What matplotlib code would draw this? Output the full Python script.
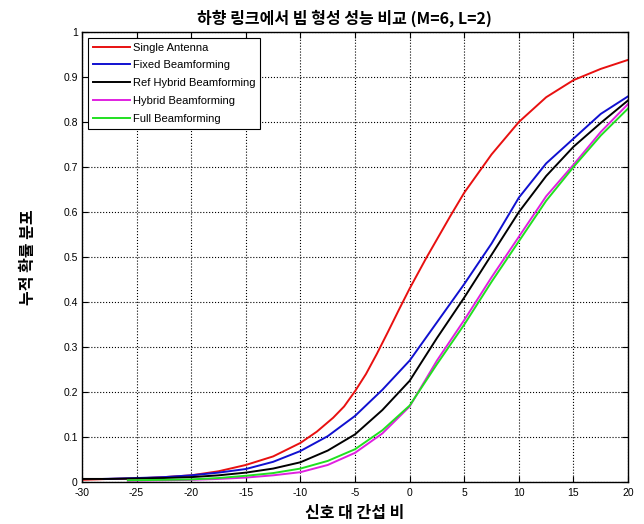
import numpy as np
import matplotlib
matplotlib.use("Agg")
from matplotlib import pyplot as plt
from matplotlib.ticker import FuncFormatter

plt.rcParams['font.family'] = ['Liberation Sans', 'Noto Sans CJK KR', 'DejaVu Sans']
plt.rcParams['axes.unicode_minus'] = False

# SINR points (dB) and CDF values
x_red = [-30, -27.5, -25, -22.5, -20, -17.5, -15, -12.5, -10, -8.5, -7, -6, -5, -4, -3,
         -2, -1, 0, 1.5, 3.7, 5, 7.5, 10, 12.5, 15, 17.5, 20]
single = [0.005, 0.007, 0.008, 0.011, 0.015, 0.024, 0.038, 0.057, 0.087, 0.112, 0.143, 0.168,
          0.202, 0.24, 0.285, 0.333, 0.382, 0.43, 0.497, 0.59, 0.643, 0.728, 0.80, 0.855, 0.893,
          0.918, 0.938]

x_blue = [-28, -25, -22.5, -20, -17.5, -15, -12.5, -10, -7.5, -5, -2.5,
          0, 2.5, 5, 7.5, 10, 12.5, 15, 17.5, 20]
fixed = [0.007, 0.009, 0.011, 0.015, 0.021, 0.029, 0.045, 0.069, 0.102, 0.147, 0.205,
         0.27, 0.355, 0.44, 0.53, 0.632, 0.708, 0.763, 0.818, 0.857]

x_black = [-30, -27.5, -25, -22.5, -20, -17.5, -15, -12.5, -10, -7.5, -5, -2.5,
           0, 2.5, 5, 7.5, 10, 12.5, 15, 17.5, 20]
ref_hybrid = [0.007, 0.007, 0.008, 0.009, 0.011, 0.015, 0.021, 0.030, 0.044, 0.070, 0.106, 0.16,
              0.225, 0.32, 0.41, 0.505, 0.60, 0.68, 0.745, 0.798, 0.848]

x_low = [-25.8, -22.5, -20, -17.5, -15, -12.5, -10, -7.5, -5, -2.5,
         0, 2.5, 5, 7.5, 10, 12.5, 15, 17.5, 20]
hybrid = [0.003, 0.004, 0.005, 0.007, 0.010, 0.015, 0.022, 0.038, 0.065, 0.108,
          0.168, 0.27, 0.36, 0.455, 0.545, 0.635, 0.705, 0.778, 0.84]
full = [0.004, 0.005, 0.006, 0.009, 0.014, 0.020, 0.030, 0.047, 0.073, 0.115,
        0.17, 0.262, 0.35, 0.445, 0.535, 0.625, 0.70, 0.77, 0.83]

labels = ["Single Antenna", "Fixed Beamforming", "Ref Hybrid Beamforming",
          "Hybrid Beamforming", "Full Beamforming"]

fig = plt.figure(figsize=(6.44, 5.24), dpi=100, facecolor="white")
ax = fig.add_axes([0.1273, 0.080, 0.848, 0.859])

ax.plot(x_red, single, color="#e81010", lw=1.4, label=labels[0])
ax.plot(x_blue, fixed, color="#1010d0", lw=1.4, label=labels[1])
ax.plot(x_black, ref_hybrid, color="black", lw=1.4, label=labels[2])
ax.plot(x_low, hybrid, color="#e020e0", lw=1.4, label=labels[3])
ax.plot(x_low, full, color="#20e020", lw=1.4, label=labels[4])

ax.set_xlim(-30, 20)
ax.set_ylim(0, 1)
ax.set_xticks(np.arange(-30, 21, 5))
ax.set_yticks(np.arange(0, 1.01, 0.1))
ax.yaxis.set_major_formatter(FuncFormatter(lambda v, p: "%g" % round(v, 1)))
ax.tick_params(direction="in", top=True, right=True, labelsize=7.5, length=4)
ax.tick_params(axis="x", pad=4)
ax.tick_params(axis="y", pad=3)
ax.grid(True, linestyle=":", color="black", lw=0.8)
for s in ax.spines.values():
    s.set_linewidth(1.0)

leg = ax.legend(loc="upper left", fontsize=8, fancybox=False, framealpha=1,
                edgecolor="black", handlelength=3.4, borderaxespad=0.5,
                labelspacing=0.7, handletextpad=0.2, borderpad=0.45)
leg.get_frame().set_linewidth(0.8)

kfont = dict(family=["Noto Sans CJK KR", "DejaVu Sans"], fontweight="bold", fontsize=11.5)
ax.set_title("하향 링크에서 빔 형성 성능 비교 (M=6, L=2)", pad=6, x=0.48, **kfont)
ax.set_xlabel("신호 대 간섭 비", labelpad=5, **kfont)
ax.set_ylabel("누적 확률 분포", labelpad=20, **kfont)

plt.savefig("out.png", dpi=100)
